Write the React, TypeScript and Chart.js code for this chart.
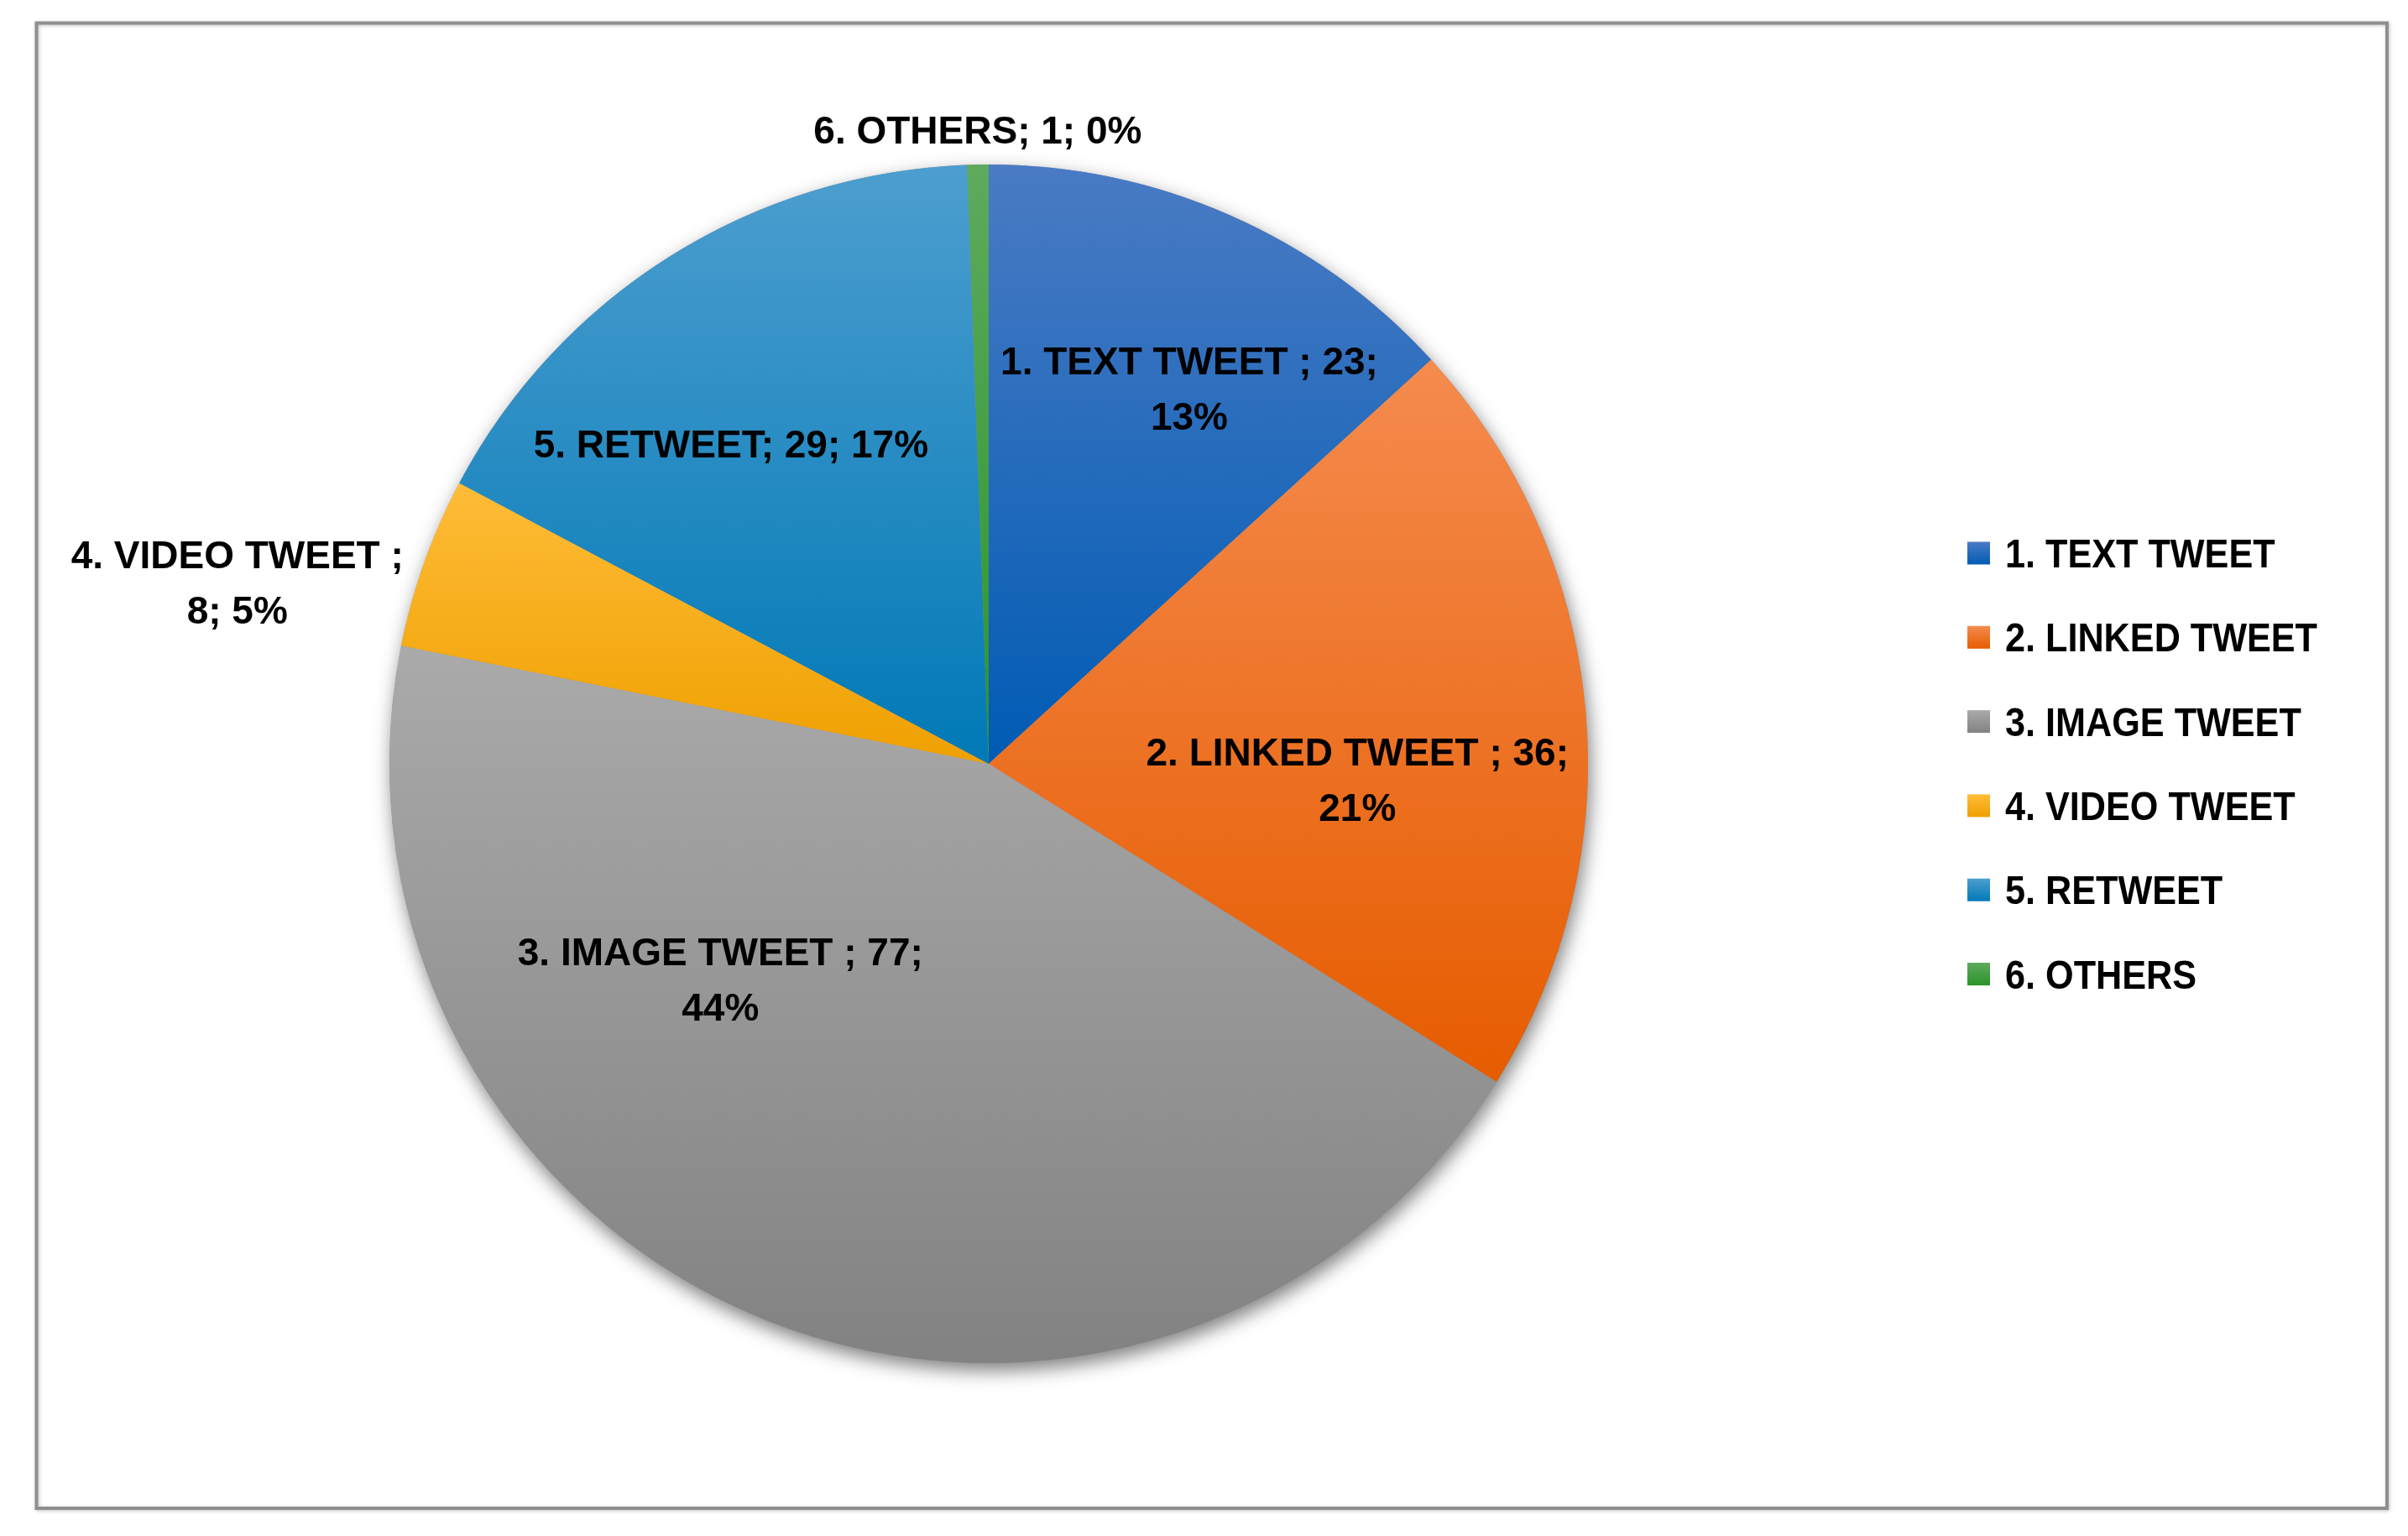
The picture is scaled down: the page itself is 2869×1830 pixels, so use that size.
import React, { useEffect, useRef } from "react";
import { Chart, registerables } from "chart.js";

Chart.register(...registerables);

// ---- data ----
const categories = [
  "1. TEXT TWEET ",
  "2. LINKED TWEET ",
  "3. IMAGE TWEET ",
  "4. VIDEO TWEET ",
  "5. RETWEET",
  "6. OTHERS",
];
const values = [23, 36, 77, 8, 29, 1];
const percentLabels = [13, 21, 44, 5, 17, 0];

// ---- styles ----
const topColors = ["#4a7bc4", "#f58b4e", "#aaaaaa", "#ffbc38", "#4d9ecf", "#5eaa5e"];
const bottomColors = ["#005bb4", "#e65c00", "#828282", "#efa000", "#0079b6", "#2a942a"];
const baseColors = ["#1f66ba", "#f06d1c", "#969696", "#f9ae10", "#0a86c2", "#44a044"];

// label placement (angle clockwise from top in degrees, distance as fraction of radius)
const labelLineSplit = [2, 2, 2, 1, 3, 3];
const labelAngles = [28.3, 92.9, 230.9, 283.4, 320.9, 359.0];
const labelDist = [0.706, 0.616, 0.577, 1.289, 0.682, 1.053];

const LABEL_FONT = "bold 46px 'Liberation Sans', Arial, sans-serif";
const LEGEND_FONT = "bold 48px 'Liberation Sans', Arial, sans-serif";

function arcYRange(x: number, y: number, r: number, s: number, e: number) {
  const ys = [y, y + r * Math.sin(s), y + r * Math.sin(e)];
  for (const a of [-Math.PI / 2, Math.PI / 2, (3 * Math.PI) / 2]) {
    if (a >= s && a <= e) ys.push(y + r * Math.sin(a));
  }
  return [Math.min(...ys), Math.max(...ys)];
}

const decorPlugin = {
  id: "decor",
  beforeDraw(chart: any) {
    const ctx = chart.ctx as CanvasRenderingContext2D;
    ctx.save();
    ctx.fillStyle = "#ffffff";
    ctx.fillRect(0, 0, chart.width, chart.height);
    ctx.shadowColor = "rgba(0,0,0,0.25)";
    ctx.shadowBlur = 4;
    ctx.shadowOffsetX = 1;
    ctx.shadowOffsetY = 1;
    ctx.strokeStyle = "#8f8f8f";
    ctx.lineWidth = 4;
    ctx.strokeRect(43.5, 27.5, 2800.5, 1769.5);
    ctx.restore();
  },
  beforeDatasetsDraw(chart: any) {
    const ctx = chart.ctx as CanvasRenderingContext2D;
    const meta = chart.getDatasetMeta(0);
    if (!meta.data.length) return;
    const p0 = meta.data[0].getProps(["x", "y", "outerRadius"], true);
    ctx.save();
    ctx.shadowColor = "rgba(0,0,0,0.5)";
    ctx.shadowBlur = 22;
    ctx.shadowOffsetX = 3;
    ctx.shadowOffsetY = 9;
    ctx.beginPath();
    ctx.arc(p0.x, p0.y, p0.outerRadius, 0, Math.PI * 2);
    ctx.fillStyle = "#909090";
    ctx.fill();
    ctx.restore();
    meta.data.forEach((arc: any, i: number) => {
      const p = arc.getProps(["x", "y", "startAngle", "endAngle", "outerRadius"], true);
      const [y0, y1] = arcYRange(p.x, p.y, p.outerRadius, p.startAngle, p.endAngle);
      const g = ctx.createLinearGradient(0, y0, 0, Math.max(y1, y0 + 1));
      g.addColorStop(0, topColors[i]);
      g.addColorStop(1, bottomColors[i]);
      arc.options.backgroundColor = g;
    });
  },
  afterDatasetsDraw(chart: any) {
    const ctx = chart.ctx as CanvasRenderingContext2D;
    const meta = chart.getDatasetMeta(0);
    ctx.save();
    ctx.font = LABEL_FONT;
    ctx.fillStyle = "#000000";
    ctx.textAlign = "center";
    ctx.textBaseline = "alphabetic";
    meta.data.forEach((arc: any, i: number) => {
      const p = arc.getProps(["x", "y", "outerRadius"], true);
      const th = ((labelAngles[i] - 90) * Math.PI) / 180;
      const cx = p.x + p.outerRadius * labelDist[i] * Math.cos(th);
      const cy = p.y + p.outerRadius * labelDist[i] * Math.sin(th);
      const parts = [categories[i] + ";", values[i] + ";", percentLabels[i] + "%"];
      const n = labelLineSplit[i];
      const lines = [parts.slice(0, n).join(" ")];
      if (n < parts.length) lines.push(parts.slice(n).join(" "));
      const lh = 66;
      const startY = cy - ((lines.length - 1) * lh) / 2;
      lines.forEach((t, k) => ctx.fillText(t, cx, startY + k * lh + 13));
    });
    ctx.restore();
  },
  afterDraw(chart: any) {
    const ctx = chart.ctx as CanvasRenderingContext2D;
    ctx.save();
    ctx.font = LEGEND_FONT;
    ctx.textAlign = "left";
    ctx.textBaseline = "alphabetic";
    const x0 = 2344;
    const y0 = 659;
    const step = 100.3;
    const sq = 27;
    chart.data.labels.forEach((lab: string, i: number) => {
      const cy = y0 + i * step;
      const g = ctx.createLinearGradient(0, cy - sq / 2, 0, cy + sq / 2);
      g.addColorStop(0, topColors[i]);
      g.addColorStop(1, bottomColors[i]);
      ctx.fillStyle = g;
      ctx.fillRect(x0, cy - sq / 2, sq, sq);
      ctx.fillStyle = "#000000";
      ctx.save();
      ctx.translate(2389, cy + 17);
      ctx.scale(0.9, 1);
      ctx.fillText(String(lab).trim(), 0, 0);
      ctx.restore();
    });
    ctx.restore();
  },
};

export default function App() {
  const ref = useRef<HTMLCanvasElement | null>(null);
  useEffect(() => {
    document.body.style.margin = "0";
    const canvas = ref.current;
    if (!canvas) return;
    const chart = new Chart(canvas, {
      type: "pie",
      data: {
        labels: categories,
        datasets: [
          {
            data: values,
            backgroundColor: (c: any) => baseColors[c.dataIndex % baseColors.length],
            borderWidth: 0,
            hoverOffset: 0,
          },
        ],
      },
      options: {
        responsive: false,
        animation: false,
        events: [],
        devicePixelRatio: 1,
        layout: { padding: { left: 464, right: 977, top: 196, bottom: 206 } },
        plugins: {
          legend: { display: false },
          tooltip: { enabled: false },
          title: { display: false },
        },
      },
      plugins: [decorPlugin],
    });
    return () => chart.destroy();
  }, []);
  return (
    <div style={{ position: "absolute", left: 0, top: 0, width: 2869, height: 1830 }}>
      <canvas ref={ref} width={2869} height={1830} style={{ display: "block", width: 2869, height: 1830 }} />
    </div>
  );
}
